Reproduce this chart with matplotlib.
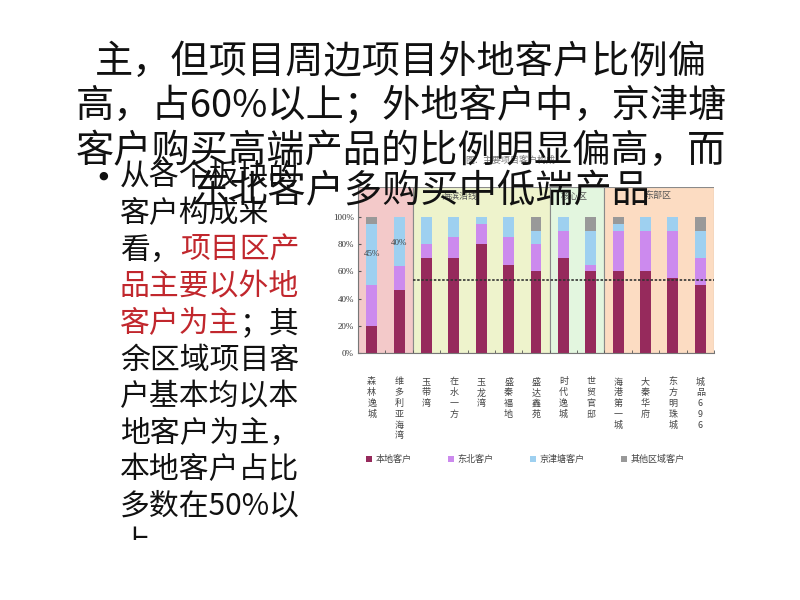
import numpy as np
import matplotlib.pyplot as plt
from matplotlib.patches import Rectangle

plt.rcParams['font.family'] = ['Noto Sans CJK SC', 'DejaVu Sans']

projects = ['森林逸城', '维多利亚海湾', '玉带湾', '在水一方', '玉龙湾', '盛秦福地', '盛达鑫苑',
            '时代逸城', '世贸官邸', '海港第一城', '大秦华府', '东方明珠城', '城品696']
local = [20, 46, 70, 70, 80, 65, 60, 70, 60, 60, 60, 55, 50]
northeast = [30, 18, 10, 15, 15, 20, 20, 20, 5, 30, 30, 35, 20]
jjt = [45, 36, 20, 15, 5, 15, 10, 10, 25, 5, 10, 10, 20]
other = [5, 0, 0, 0, 0, 0, 10, 0, 10, 5, 0, 0, 10]
series_names = ['本地客户', '东北客户', '京津塘客户', '其他区域客户']
region_names = ['', '海滨沿线', '核心区', '东部区']
region_spans = [(-0.5, 1.5), (1.5, 6.5), (6.5, 8.5), (8.5, 12.5)]
avg_line = 54

title_lines = ['主，但项目周边项目外地客户比例偏',
               '高，占60%以上；外地客户中，京津塘',
               '客户购买高端产品的比例明显偏高，而',
               '东北客户多购买中低端产品']
body_lines = [('从各个板块的', 'k'), ('客户构成来', 'k'), ('看，', 'k', '项目区产'),
              ('品主要以外地', 'r'), ('客户为主', 'r', '；其'), ('余区域项目客', 'k'),
              ('户基本均以本', 'k'), ('地客户为主，', 'k'), ('本地客户占比', 'k'),
              ('多数在50%以', 'k'), ('上', 'k')]

fig = plt.figure(figsize=(8, 6), dpi=100)
ax = fig.add_axes([358 / 800, 247 / 600, 356 / 800, 166 / 600])

region_colors = ['#f3c9c9', '#eef3cc', '#e3f6df', '#fcdcc2']
for (a, b), c in zip(region_spans, region_colors):
    ax.add_patch(Rectangle((a, 0), b - a, 1.22, facecolor=c, edgecolor='#8a8a8a', lw=0.8, zorder=0))

x = np.arange(len(projects))
colors = ['#962a5c', '#cc8aee', '#9ed0f0', '#999999']
bottom = np.zeros(len(projects))
for vals, c, name in zip([local, northeast, jjt, other], colors, series_names):
    v = np.array(vals) / 100
    ax.bar(x, v, 0.4, bottom=bottom, color=c, label=name, zorder=2)
    bottom += v

ax.plot([1.5, 12.5], [avg_line / 100] * 2, ls=(0, (1.5, 1)), color='#333333', lw=1.2, zorder=3)
ax.text(0, 0.73, '45%', ha='center', va='center', fontsize=6.5, color='#444444',
        family=['Liberation Serif', 'DejaVu Serif'], zorder=4)
ax.text(1, 0.81, '40%', ha='center', va='center', fontsize=6.5, color='#444444',
        family=['Liberation Serif', 'DejaVu Serif'], zorder=4)

region_x = [0, 3.2, 7.4, 10.45]
for rx, name in zip(region_x, region_names):
    ax.text(rx, 1.15, name, ha='center', va='center', fontsize=6.5, color='#555555')

ax.set_xlim(-0.5, 12.5)
ax.set_ylim(0, 1.22)
ax.set_yticks(np.arange(0, 1.01, 0.2))
ax.set_yticklabels(['%d%%' % (t * 100) for t in np.arange(0, 1.01, 0.2)],
                   fontsize=6.5, family=['Liberation Serif', 'DejaVu Serif'], color='#333333')
ax.set_xticks(x)
ax.set_xticklabels([])
ax.set_xticks(np.arange(-0.5, 12.6, 1), minor=True)
ax.tick_params(axis='x', which='major', length=0)
ax.tick_params(axis='x', which='minor', length=2, direction='in', color='#555555')
ax.tick_params(axis='y', length=2, direction='in', pad=3, color='#555555')
for s in ['top', 'right']:
    ax.spines[s].set_visible(False)
for s in ['left', 'bottom']:
    ax.spines[s].set_color('#777777')

for xi, name in zip(x, projects):
    ax.text(xi, -0.18, '\n'.join(name), ha='center', va='top', fontsize=6.5,
            color='#444444', linespacing=1.25)

ax.legend(loc='center', bbox_to_anchor=(0.47, -0.64), ncol=4, frameon=False,
          fontsize=6.5, handlelength=0.7, handleheight=0.7, columnspacing=4.0,
          handletextpad=0.4, labelcolor='#444444')

fig.text(510 / 800, 1 - 160 / 600, '图：主要项目客户构成', ha='center', va='center',
         fontsize=6.5, color='#777777')

title_y = [62, 106, 151, 192]
title_x = [401, 401, 401, 421]
for tx, ty, line in zip(title_x, title_y, title_lines):
    fig.text(tx / 800, 1 - ty / 600, line, ha='center', va='center', fontsize=27.5,
             color='#111111', zorder=10)

fig.text(103 / 800, 1 - 176 / 600, '●', ha='center', va='center', fontsize=8,
         color='#111111', zorder=10, family=['DejaVu Sans'])
clip = Rectangle((0, 1 - 540 / 600), 1, 540 / 600, transform=fig.transFigure)
red = '#c1272d'
for i, item in enumerate(body_lines):
    ty = 1 - (177 + i * 36.6) / 600
    first = item[0]
    c1 = red if item[1] == 'r' else '#111111'
    t = fig.text(120 / 800, ty, first, ha='left', va='center', fontsize=21.5,
                 color=c1, zorder=10)
    t.set_clip_path(clip)
    if len(item) == 3:
        c2 = '#111111' if item[1] == 'r' else red
        fig.canvas.draw()
        bb = t.get_window_extent()
        fig.text(bb.x1 / 800, ty, item[2], ha='left', va='center', fontsize=21.5,
                 color=c2, zorder=10)

fig.savefig('out.png', dpi=100, facecolor='white')
